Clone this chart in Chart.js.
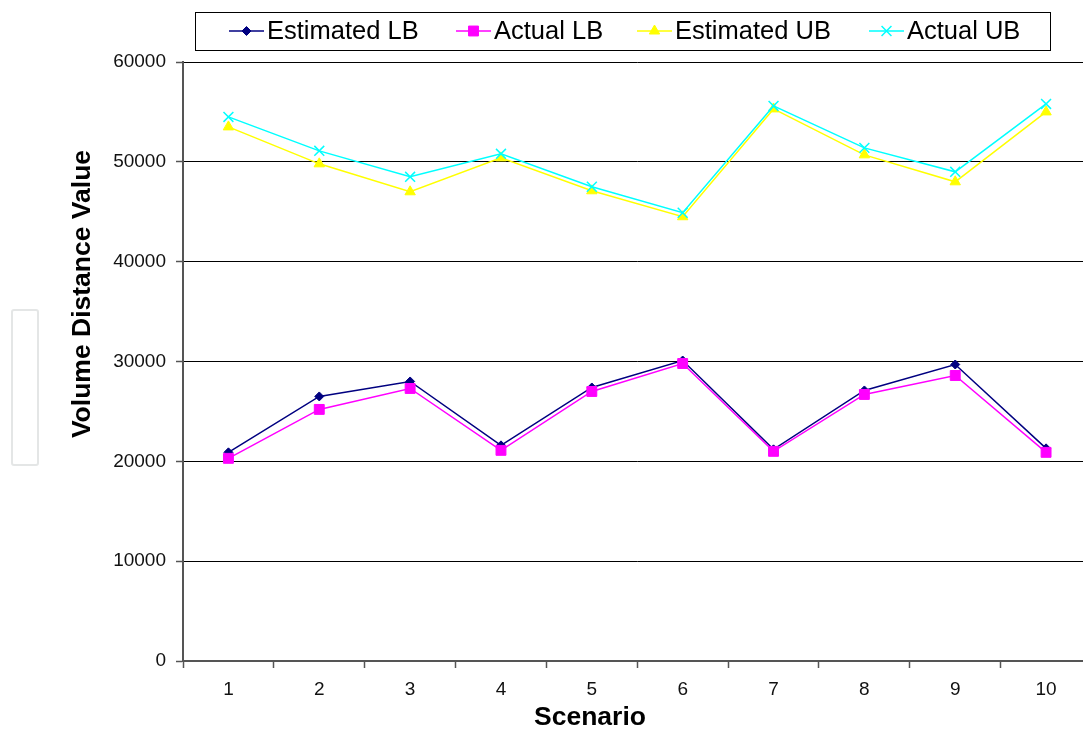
<!DOCTYPE html>
<html>
<head>
<meta charset="utf-8">
<script src="https://cdn.jsdelivr.net/npm/chart.js@4/dist/chart.umd.min.js"></script>
<style>
  html, body { margin: 0; padding: 0; background: #fff; overflow: hidden; }
  #wrap { width: 1100px; height: 730px; }
</style>
</head>
<body>
<div id="wrap"><canvas id="c" width="1100" height="730"></canvas></div>
<script>
const categories = ['1', '2', '3', '4', '5', '6', '7', '8', '9', '10'];
const estimatedLB = [20900, 26500, 28000, 21600, 27400, 30100, 21200, 27100, 29700, 21300];
const actualLB    = [20300, 25200, 27300, 21100, 27000, 29800, 21000, 26700, 28600, 20900];
const estimatedUB = [53500, 49800, 47000, 50400, 47100, 44500, 55300, 50700, 48000, 55000];
const actualUB    = [54500, 51100, 48500, 50800, 47500, 44900, 55600, 51400, 49000, 55800];
const yMin = 0, yMax = 60000, yStep = 10000;
const seriesNames = ['Estimated LB', 'Actual LB', 'Estimated UB', 'Actual UB'];
const yTitle = 'Volume Distance Value';
const xTitle = 'Scenario';

const FONT = "'Liberation Sans', Arial, sans-serif";
const colors = ['#000080', '#FF00FF', '#FFFF00', '#00FFFF'];
const styles = ['rectRot', 'rect', 'triangle', 'crossRot'];
const radii = [4.5, 7, 6, 7];

const datasets = [estimatedLB, actualLB, estimatedUB, actualUB].map((d, i) => ({
  label: seriesNames[i],
  data: d,
  borderColor: colors[i],
  backgroundColor: colors[i],
  pointBackgroundColor: colors[i],
  pointBorderColor: colors[i],
  pointStyle: styles[i],
  pointRadius: radii[i],
  pointHoverRadius: radii[i],
  pointBorderWidth: i === 3 ? 1.5 : 1,
  borderWidth: 1.5,
  tension: 0,
  fill: false,
  order: 3 - i
}));

const decor = {
  id: 'decor',
  afterDraw(chart) {
    const ctx = chart.ctx;
    ctx.save();
    // faint artifact box
    ctx.strokeStyle = '#e4e6e6';
    ctx.lineWidth = 2;
    ctx.beginPath();
    if (ctx.roundRect) ctx.roundRect(12, 310, 26, 155, 2); else ctx.rect(12, 310, 26, 155);
    ctx.stroke();

    // axis titles
    ctx.fillStyle = '#000';
    ctx.font = "bold 26.5px " + FONT;
    ctx.textAlign = 'center';
    ctx.textBaseline = 'middle';
    ctx.save();
    ctx.translate(83, 294);
    ctx.rotate(-Math.PI / 2);
    ctx.fillText(yTitle, 0, 0);
    ctx.restore();
    ctx.fillText(xTitle, 590, 718);

    // legend
    ctx.fillStyle = '#fff';
    ctx.fillRect(195, 12, 855, 38);
    ctx.strokeStyle = '#000';
    ctx.lineWidth = 1;
    ctx.strokeRect(195.5, 12.5, 855, 38);
    ctx.font = "25.5px " + FONT;
    ctx.textAlign = 'left';
    const starts = [229, 456, 637, 869];
    const cy = 31;
    chart.data.datasets.forEach((ds, i) => {
      const x0 = starts[i];
      ctx.strokeStyle = ds.borderColor;
      ctx.lineWidth = 1.5;
      ctx.beginPath();
      ctx.moveTo(x0, cy);
      ctx.lineTo(x0 + 35, cy);
      ctx.stroke();
      ctx.fillStyle = ds.pointBackgroundColor;
      ctx.strokeStyle = ds.pointBorderColor;
      ctx.lineWidth = ds.pointBorderWidth;
      Chart.helpers.drawPoint(ctx, {
        pointStyle: ds.pointStyle,
        radius: ds.pointRadius,
        rotation: 0,
        borderWidth: ds.pointBorderWidth
      }, x0 + 17.5, cy);
      ctx.fillStyle = '#000';
      ctx.fillText(ds.label, x0 + 38, cy + 1);
    });
    ctx.restore();
  }
};

new Chart(document.getElementById('c'), {
  type: 'line',
  data: { labels: categories, datasets },
  options: {
    responsive: false,
    devicePixelRatio: 1,
    animation: false,
    layout: { padding: { top: 62, right: 8, left: 0, bottom: 0 } },
    plugins: {
      legend: { display: false },
      tooltip: { enabled: false },
      title: { display: false }
    },
    scales: {
      x: {
        type: 'category',
        offset: true,
        grid: {
          offset: true,
          drawOnChartArea: false,
          drawTicks: true,
          tickLength: 7,
          tickColor: '#555',
          tickWidth: 1.5
        },
        border: { color: '#555', width: 2 },
        ticks: {
          color: '#111',
          font: { family: FONT, size: 19 },
          padding: 10,
          maxRotation: 0
        },
        afterFit(scale) { scale.height = 69; }
      },
      y: {
        min: yMin,
        max: yMax,
        grid: {
          color: '#000',
          lineWidth: 1,
          drawTicks: true,
          tickLength: 7,
          tickColor: '#555',
          tickWidth: 1.5
        },
        border: { color: '#555', width: 2 },
        ticks: {
          stepSize: yStep,
          color: '#111',
          font: { family: FONT, size: 19 },
          padding: 10,
          callback: (v) => String(v)
        },
        afterFit(scale) { scale.width = 183; }
      }
    }
  },
  plugins: [decor]
});
</script>
</body>
</html>
